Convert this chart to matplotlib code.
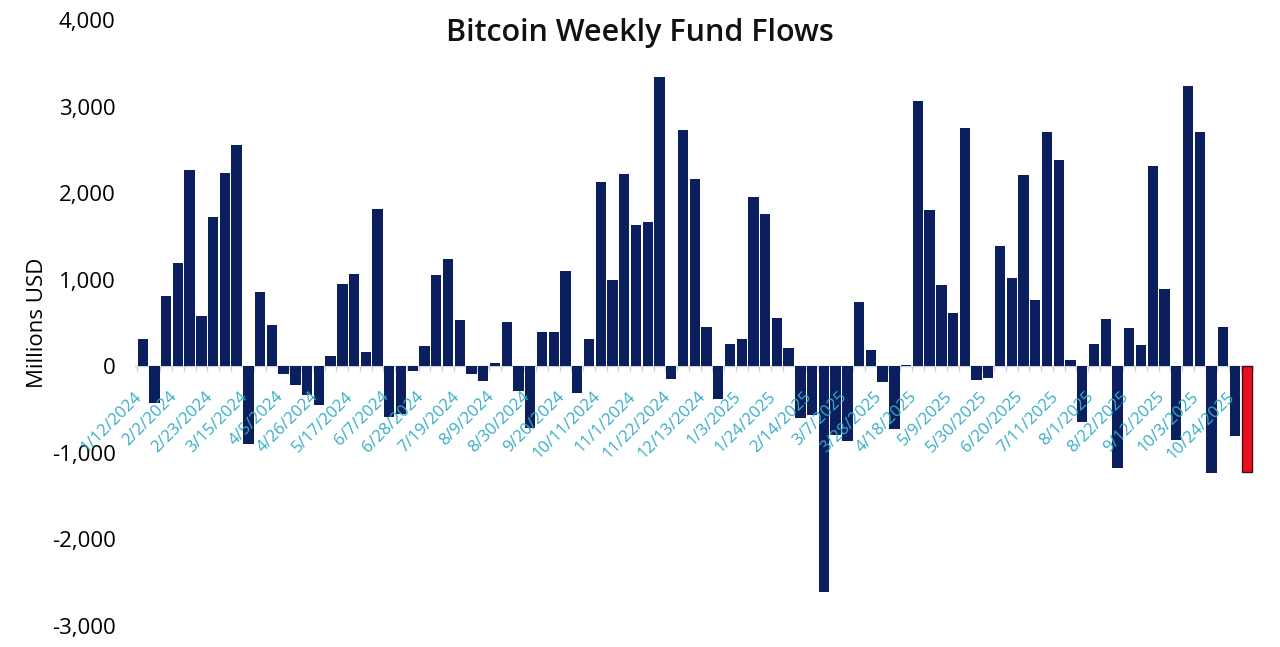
import numpy as np
import pandas as pd
import matplotlib
matplotlib.use("Agg")
import matplotlib.pyplot as plt
from matplotlib.transforms import offset_copy

plt.rcParams['font.family'] = ['Open Sans', 'DejaVu Sans']

# weekly flows, millions USD, week ending 1/12/2024 .. 10/31/2025
weeks = pd.date_range('2024-01-12', periods=95, freq='7D')
flows = [316, -421, 814, 1195, 2269, 579, 1722, 2237, 2561, -895,
         859, 482, -93, -215, -332, -446, 113, 952, 1062, 170,
         1819, -588, -555, -49, 235, 1049, 1240, 539, -93, -174,
         36, 511, -284, -717, 401, 401, 1102, -308, 316, 2127,
         997, 2216, 1633, 1669, 3347, -146, 2727, 2164, 458, -381,
         259, 316, 1957, 1763, 563, 207, -596, -567, -2613, -798,
         -863, 746, 186, -182, -721, 16, 3059, 1803, 936, 612,
         2747, -154, -138, 1394, 1025, 2208, 770, 2711, 2378, 73,
         -648, 259, 547, -1179, 438, 247, 2318, 887, -847, 3233,
         2711, -1236, 450, -806, -1216]

tick_labels = ['1/12/2024', '2/2/2024', '2/23/2024', '3/15/2024', '4/5/2024',
               '4/26/2024', '5/17/2024', '6/7/2024', '6/28/2024', '7/19/2024',
               '8/9/2024', '8/30/2024', '9/20/2024', '10/11/2024', '11/1/2024',
               '11/22/2024', '12/13/2024', '1/3/2025', '1/24/2025', '2/14/2025',
               '3/7/2025', '3/28/2025', '4/18/2025', '5/9/2025', '5/30/2025',
               '6/20/2025', '7/11/2025', '8/1/2025', '8/22/2025', '9/12/2025',
               '10/3/2025', '10/24/2025']

navy = '#0b1f5e'
red = '#e8101c'
teal = '#36adc6'
light = '#cdd1dc'

fig = plt.figure(figsize=(12.8, 6.47), dpi=100)
ax = fig.add_axes([0.1055, 0.0325, 0.874, 0.9366])

x = np.arange(len(weeks))
colors = [navy] * len(flows)
colors[-1] = red
bars = ax.bar(x, flows, width=0.88, color=colors, zorder=2)
bars[-1].set_edgecolor('#4a0a12')
bars[-1].set_linewidth(1.0)

ax.set_xlim(-0.65, len(flows) - 0.4)
ax.set_ylim(-3000, 4000)

# zero line with small ticks between bars
ax.axhline(0, color=light, lw=1, zorder=1)
ax.vlines(np.arange(len(flows) + 1) - 0.5, -50, 0, color=light, lw=1, zorder=1)

for s in ax.spines.values():
    s.set_visible(False)
ax.set_xticks([])

yt = np.arange(-3000, 4001, 1000)
ax.set_yticks(yt)
ax.set_yticklabels([f'{v:,.0f}' for v in yt], fontsize=16)
ax.tick_params(axis='y', length=0, pad=14)
ax.set_ylabel('Millions USD', fontsize=16, labelpad=10)
ax.yaxis.set_label_coords(-0.078, 0.5)

trans = offset_copy(ax.transData, fig=fig, x=-3, y=-28, units='dots')
for k, lab in enumerate(tick_labels):
    ax.text(x[k * 3], 0, lab, rotation=45, ha='right', va='center',
            rotation_mode='anchor', color=teal, fontsize=12,
            transform=trans, zorder=3)

fig.text(0.5, 1 - 33 / 647, 'Bitcoin Weekly Fund Flows', ha='center', va='center',
         fontsize=22, fontweight='semibold', color='#111111')

fig.savefig('out.png', dpi=100)
